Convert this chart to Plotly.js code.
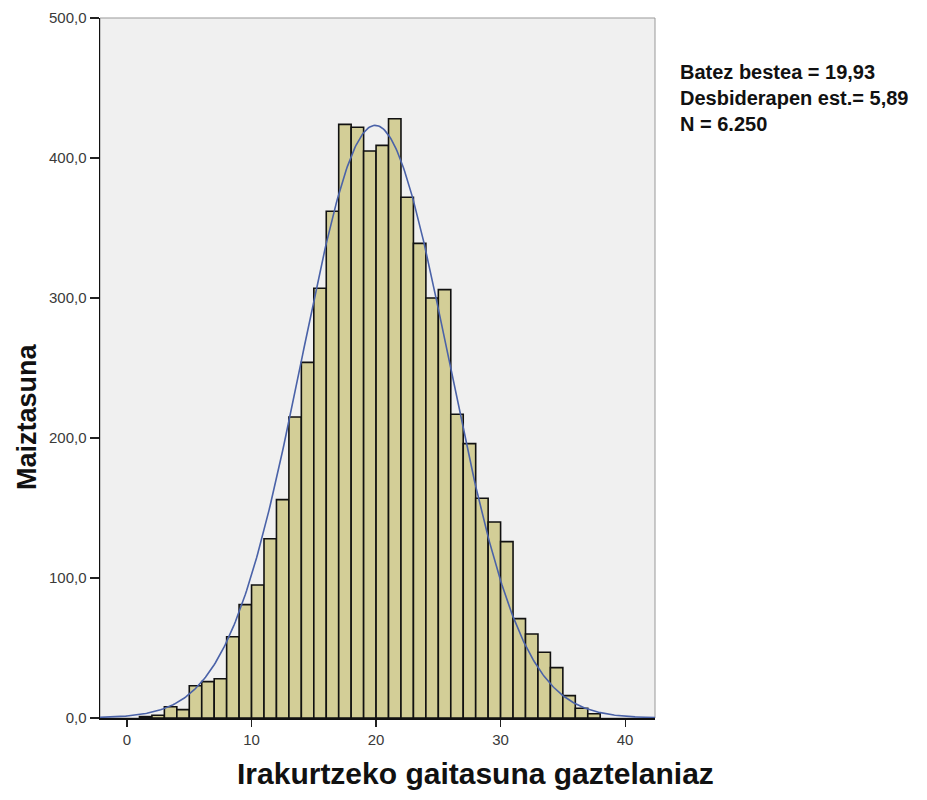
<!DOCTYPE html>
<html>
<head>
<meta charset="utf-8">
<script src="https://cdn.plot.ly/plotly-3.0.1.min.js"></script>
<style>html,body{margin:0;padding:0;background:#fff;}#chart{width:927px;height:800px;}</style>
</head>
<body>
<div id="chart"></div>
<script>
// Bin left edges (bin width 1)
const binStarts = [1,2,3,4,5,6,7,8,9,10,11,12,13,14,15,16,17,18,19,20,21,22,23,24,25,26,27,28,29,30,31,32,33,34,35,36,37];
const counts    = [1,2,8,6,23,26,28,58,81,95,128,156,215,254,307,362,424,422,405,409,428,372,339,300,306,217,196,157,140,126,71,60,47,36,16,7,3];
const meanVal = 19.93;
const sdVal = 5.89;
const nVal = 6250;
const binWidth = 1;
const yTickVals = [0,100,200,300,400,500];
const yTickText = ["0,0","100,0","200,0","300,0","400,0","500,0"];
const xTickVals = [0,10,20,30,40];
const statsLines = ["Batez bestea = 19,93","Desbiderapen est.= 5,89","N = 6.250"];
const xTitle = "Irakurtzeko gaitasuna gaztelaniaz";
const yTitle = "Maiztasuna";

const barX = binStarts.map(b => b + binWidth/2);

// fitted normal curve from the displayed statistics
const curveX = [], curveY = [];
for (let i = 0; i <= 450; i++) {
  const x = -2.5 + i * 0.1;
  curveX.push(x);
  const z = (x - meanVal) / sdVal;
  curveY.push(nVal * binWidth / (sdVal * Math.sqrt(2*Math.PI)) * Math.exp(-0.5*z*z));
}

const data = [
  {type:'bar', x: barX, y: counts, width: binWidth,
   marker:{color:'#D3CE97', line:{color:'#111', width:1.6}}, hoverinfo:'x+y'},
  {type:'scatter', mode:'lines', x: curveX, y: curveY, line:{color:'#4A62A8', width:1.6}, hoverinfo:'skip'}
];

const L = 100, R = 655, T = 18, B = 718;
const pw = R - L, ph = B - T;
const px = v => (v - L) / pw;
const py = v => (B - v) / ph;

const layout = {
  width: 927, height: 800,
  margin: {l:L, r:927-R, t:T, b:800-B},
  paper_bgcolor:'#FFFFFF', plot_bgcolor:'#F0F0F0',
  showlegend:false, bargap:0,
  font:{family:'Liberation Sans, Arial, sans-serif', color:'#333'},
  xaxis:{range:[-2.17, 42.4], tickvals:xTickVals, ticktext:xTickVals.map(String),
    ticks:'outside', ticklen:7, tickwidth:1.2, tickcolor:'#222',
    showgrid:false, zeroline:false, showline:true, linecolor:'#111', linewidth:1.5,
    tickfont:{size:15, color:'#3a3a3a'}},
  yaxis:{range:[0,500], tickvals:yTickVals, ticktext:yTickText,
    ticks:'outside', ticklen:9, tickwidth:1.2, tickcolor:'#222',
    showgrid:false, zeroline:false, showline:true, linecolor:'#111', linewidth:1.5,
    tickfont:{size:15, color:'#3a3a3a'}},
  shapes:[{type:'rect', xref:'paper', yref:'paper', x0:0, x1:1, y0:0, y1:1, line:{color:'#999', width:1}, layer:'below'}],
  annotations:[
    {xref:'paper', yref:'paper', x:px(475), y:py(773), xanchor:'center', yanchor:'middle', showarrow:false,
     text:'<b>'+xTitle+'</b>', font:{size:30, color:'#111'}},
    {xref:'paper', yref:'paper', x:px(27), y:py(417), xanchor:'center', yanchor:'middle', showarrow:false,
     textangle:-90, text:'<b>'+yTitle+'</b>', font:{size:27, color:'#111'}},
    {xref:'paper', yref:'paper', x:px(678), y:py(59), xanchor:'left', yanchor:'top', showarrow:false, align:'left',
     text:statsLines.map(s=>'<b>'+s+'</b>').join('<br>'), font:{size:20, color:'#111'}}
  ]
};

Plotly.newPlot('chart', data, layout, {displayModeBar:false, staticPlot:true});
</script>
</body>
</html>
